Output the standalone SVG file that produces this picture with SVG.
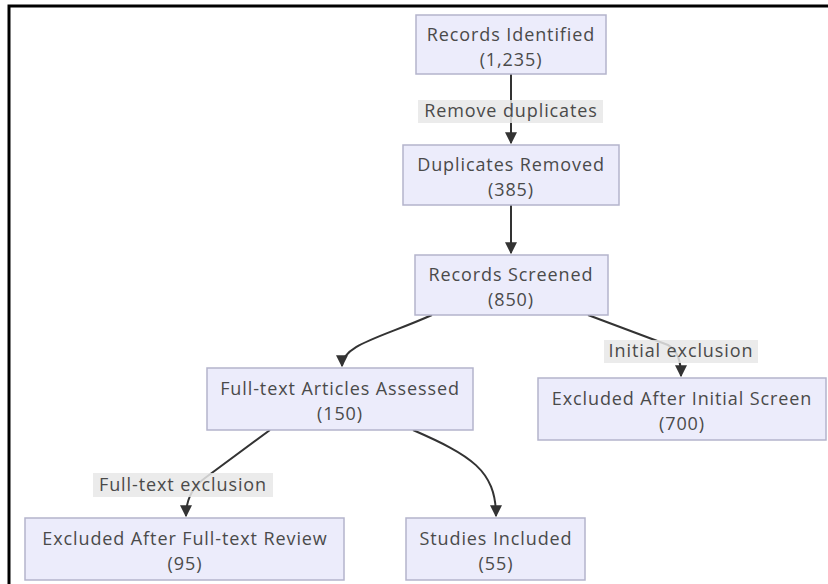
<svg xmlns="http://www.w3.org/2000/svg" width="828" height="584" viewBox="0 0 828 584">
<defs>
<style>
.node rect{fill:#ececfb;stroke:#b4b4cc;stroke-width:1.5}
.t{font-family:"Open Sans","Noto Sans",sans-serif;font-size:18px;letter-spacing:0.9px;fill:#4a4a4a;text-anchor:middle}
.edge{fill:none;stroke:#333;stroke-width:2}
.lbl{fill:#e8e8e8;opacity:0.85}
</style>
<marker id="ah" viewBox="0 0 10 10" refX="9" refY="5" markerWidth="6" markerHeight="6" orient="auto">
<path d="M0,0 L10,5 L0,10 z" fill="#333"/>
</marker>
</defs>
<rect x="0" y="0" width="828" height="584" fill="#fff"/>
<path d="M9,584 V6 H828" fill="none" stroke="#000" stroke-width="3"/>
<g id="connectors">
<path class="edge" d="M511,74 V143" marker-end="url(#ah)"/>
<path class="edge" d="M511,205 V253" marker-end="url(#ah)"/>
<path class="edge" d="M432,315 C380,338 342,345 342,366" marker-end="url(#ah)"/>
<path class="edge" d="M588,315 L668,345 Q681,352 681,376" marker-end="url(#ah)"/>
<path class="edge" d="M270,430 L205,478 Q186,492 186,516" marker-end="url(#ah)"/>
<path class="edge" d="M413,430 C470,455 496,470 496,516" marker-end="url(#ah)"/>
<rect class="lbl" x="418" y="100" width="185" height="23"/>
<text class="t" x="511" y="117">Remove duplicates</text>
<rect class="lbl" x="604" y="340" width="154" height="23"/>
<text class="t" x="681" y="357">Initial exclusion</text>
<rect class="lbl" x="93" y="473" width="180" height="24"/>
<text class="t" x="183" y="491">Full-text exclusion</text>
</g>
<g id="n1" class="node"><rect x="416" y="15" width="190" height="59"/><text class="t" x="511" y="41">Records Identified<tspan x="511" dy="25">(1,235)</tspan></text></g>
<g id="n2" class="node"><rect x="403" y="145" width="216" height="60"/><text class="t" x="511" y="171">Duplicates Removed<tspan x="511" dy="25">(385)</tspan></text></g>
<g id="n3" class="node"><rect x="415" y="255" width="193" height="60"/><text class="t" x="511" y="281">Records Screened<tspan x="511" dy="25">(850)</tspan></text></g>
<g id="n4" class="node"><rect x="207" y="368" width="266" height="62"/><text class="t" x="340" y="395">Full-text Articles Assessed<tspan x="340" dy="25">(150)</tspan></text></g>
<g id="n5" class="node"><rect x="538" y="378" width="288" height="62"/><text class="t" x="682" y="405">Excluded After Initial Screen<tspan x="682" dy="25">(700)</tspan></text></g>
<g id="n6" class="node"><rect x="25" y="518" width="319" height="62"/><text class="t" x="185" y="545">Excluded After Full-text Review<tspan x="185" dy="25">(95)</tspan></text></g>
<g id="n7" class="node"><rect x="406" y="518" width="179" height="62"/><text class="t" x="496" y="545">Studies Included<tspan x="496" dy="25">(55)</tspan></text></g>
</svg>
